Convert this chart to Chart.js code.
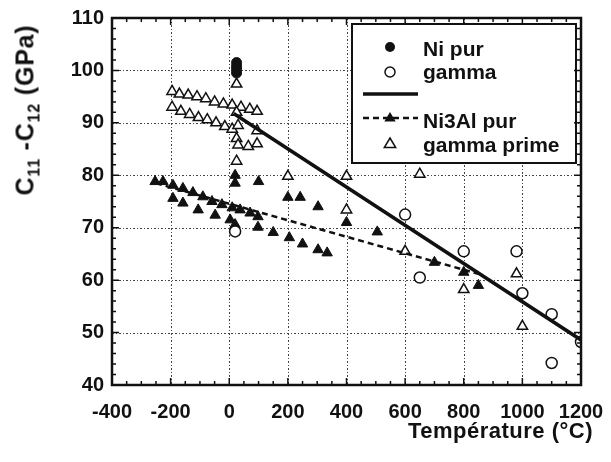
<!DOCTYPE html>
<html>
<head>
<meta charset="utf-8">
<script src="https://cdn.jsdelivr.net/npm/chart.js@4.4.0/dist/chart.umd.min.js"></script>
<style>
  html, body { margin: 0; padding: 0; background: #fff; }
  #wrap { position: relative; width: 611px; height: 462px; font-family: "Liberation Sans", Arial, sans-serif; font-weight: bold; color: #111; }
  #ytitle { position: absolute; left: 27px; top: 110px; transform: translate(-50%, -50%) rotate(-90deg); white-space: nowrap; font-size: 25px; letter-spacing: 0.8px; }
  #ytitle sub { font-size: 16px; vertical-align: -6px; }
  #xtitle { position: absolute; right: 18px; top: 420px; white-space: nowrap; font-size: 22px; line-height: 1; letter-spacing: 0.5px; }
</style>
</head>
<body>
<div id="wrap">
  <canvas id="chart" width="611" height="462"></canvas>
  <div id="ytitle">C<sub>11</sub> -C<sub>12</sub> (GPa)</div>
  <div id="xtitle">Température (°C)</div>
</div>
<script>
// C11-C12 vs temperature, Ni (gamma) and Ni3Al (gamma prime)

const xTickValues = [-400, -200, 0, 200, 400, 600, 800, 1000, 1200];
const yTickValues = [40, 50, 60, 70, 80, 90, 100, 110];

// Ni pur (filled circles)
const niPurX = [25, 25, 25, 25];
const niPurY = [99.5, 100.2, 100.8, 101.5];

// gamma (open circles)
const gammaX = [20, 600, 650, 800, 980, 1000, 1100, 1100, 1200];
const gammaY = [69.3, 72.5, 60.5, 65.5, 65.5, 57.5, 53.5, 44.2, 48.2];

// Ni3Al pur (filled triangles)
const ni3alX = [-253, -226, -192, -158, -124, -90, -59, -25, 10, 37, 71, 98,
                -192, -158, -106, -48, 3, 20, 98, 150, 205, 250, 303, 334,
                20, 20, 100, 200, 242, 303, 400, 505, 700, 800, 850];
const ni3alY = [78.8, 78.8, 78.1, 77.5, 76.7, 75.9, 75.0, 74.4, 73.8, 73.4, 72.8, 72.1,
                75.6, 74.7, 73.4, 72.4, 71.5, 70.6, 70.1, 69.1, 68.1, 66.9, 65.8, 65.2,
                80.0, 78.5, 78.8, 75.8, 75.8, 74.0, 71.0, 69.2, 63.4, 61.5, 59.0];

// gamma prime (open triangles)
const gPrimeX = [-195, -170, -140, -110, -80, -50, -20, 10, 40, 70, 95,
                 -195, -165, -135, -105, -75, -45, -15, 10,
                 25, 25, 30, 25, 30, 65, 95, 95, 25,
                 200, 400, 400, 650, 600, 800, 980, 1000];
const gPrimeY = [96.0, 95.5, 95.3, 95.0, 94.6, 94.0, 93.6, 93.4, 93.0, 92.6, 92.2,
                 93.0, 92.2, 91.6, 91.0, 90.6, 90.0, 89.3, 88.8,
                 97.4, 92.0, 89.5, 87.0, 85.8, 85.5, 86.0, 88.5, 82.7,
                 79.8, 79.8, 73.4, 80.2, 65.5, 58.2, 61.2, 51.2];

// trend lines
const gammaFitX = [15, 1200];
const gammaFitY = [91.8, 48.6];
const ni3alFitX = [-250, 850];
const ni3alFitY = [78.5, 61.2];

const pts = (xs, ys) => xs.map((v, i) => ({ x: v, y: ys[i] }));
const INK = '#111';
const FONT = '"Liberation Sans", Arial, sans-serif';

// dotted grid at the labelled ticks
const gridPlugin = {
    id: 'dottedGrid',
    beforeDatasetsDraw(chart) {
        const { ctx, chartArea: a, scales: { x, y } } = chart;
        ctx.save();
        ctx.strokeStyle = '#444';
        ctx.lineWidth = 1;
        ctx.setLineDash([2, 2, 1, 2]);
        ctx.beginPath();
        xTickValues.slice(1, -1).forEach(v => {
            const px = Math.round(x.getPixelForValue(v)) + 0.5;
            ctx.moveTo(px, a.top); ctx.lineTo(px, a.bottom);
        });
        yTickValues.slice(1, -1).forEach(v => {
            const py = Math.round(y.getPixelForValue(v)) + 0.5;
            ctx.moveTo(a.left, py); ctx.lineTo(a.right, py);
        });
        ctx.stroke();
        ctx.restore();
    }
};

const framePlugin = {
    id: 'frame',
    afterDatasetsDraw(chart) {
        const { ctx, chartArea: a, scales: { x, y } } = chart;
        ctx.save();

        // legend box (top right, inside the plot)
        const L = a.right - 229, T = a.top + 6, R = a.right - 5, B = a.top + 145;
        ctx.fillStyle = '#fff';
        ctx.fillRect(L, T, R - L, B - T);
        ctx.strokeStyle = INK;
        ctx.lineWidth = 2;
        ctx.strokeRect(L, T, R - L, B - T);

        const sx = L + 38, tx = L + 71;
        ctx.fillStyle = INK;
        ctx.beginPath(); ctx.arc(sx, a.top + 29, 5, 0, Math.PI * 2); ctx.fill();
        ctx.lineWidth = 1.5;
        ctx.beginPath(); ctx.arc(sx, a.top + 54, 5, 0, Math.PI * 2); ctx.stroke();
        ctx.lineWidth = 3.5;
        ctx.beginPath(); ctx.moveTo(L + 11, a.top + 76); ctx.lineTo(L + 66, a.top + 76); ctx.stroke();
        ctx.lineWidth = 2.5;
        ctx.setLineDash([6, 4]);
        ctx.beginPath(); ctx.moveTo(L + 11, a.top + 100); ctx.lineTo(L + 66, a.top + 100); ctx.stroke();
        ctx.setLineDash([]);
        const tri = (cx, cy, r, fill) => {
            ctx.beginPath();
            ctx.moveTo(cx, cy - r);
            ctx.lineTo(cx + r * 0.95, cy + r * 0.6);
            ctx.lineTo(cx - r * 0.95, cy + r * 0.6);
            ctx.closePath();
            if (fill) ctx.fill(); else { ctx.lineWidth = 1.5; ctx.stroke(); }
        };
        tri(sx, a.top + 100, 6, true);
        tri(sx, a.top + 126, 6, false);

        ctx.font = 'bold 21px ' + FONT;
        ctx.textAlign = 'left';
        ctx.textBaseline = 'alphabetic';
        ctx.fillText('Ni pur', tx, a.top + 38);
        ctx.fillText('gamma', tx, a.top + 61);
        ctx.fillText('Ni3Al pur', tx, a.top + 110);
        ctx.fillText('gamma prime', tx, a.top + 134);

        // inward tick marks on all four sides
        ctx.strokeStyle = INK;
        ctx.lineWidth = 1.5;
        ctx.beginPath();
        for (let v = -400; v <= 1200; v += 50) {
            const px = x.getPixelForValue(v);
            const len = v % 200 === 0 ? 7 : 4;
            ctx.moveTo(px, a.bottom); ctx.lineTo(px, a.bottom - len);
            ctx.moveTo(px, a.top); ctx.lineTo(px, a.top + len);
        }
        for (let v = 40; v <= 110; v += 2) {
            const py = y.getPixelForValue(v);
            const len = v % 10 === 0 ? 7 : 4;
            ctx.moveTo(a.left, py); ctx.lineTo(a.left + len, py);
            ctx.moveTo(a.right, py); ctx.lineTo(a.right - len, py);
        }
        ctx.stroke();

        // frame
        ctx.lineWidth = 2.5;
        ctx.strokeRect(a.left, a.top, a.right - a.left, a.bottom - a.top);
        ctx.restore();
    }
};

new Chart(document.getElementById('chart'), {
    type: 'scatter',
    data: {
        datasets: [
            {
                label: 'fit gamma',
                type: 'line',
                data: pts(gammaFitX, gammaFitY),
                borderColor: INK,
                borderWidth: 3.5,
                pointRadius: 0,
                showLine: true
            },
            {
                label: 'fit gamma prime',
                type: 'line',
                data: pts(ni3alFitX, ni3alFitY),
                borderColor: INK,
                borderWidth: 2.5,
                borderDash: [6, 4],
                pointRadius: 0,
                showLine: true
            },
            {
                label: 'Ni pur',
                data: pts(niPurX, niPurY),
                pointStyle: 'circle',
                pointRadius: 5,
                backgroundColor: INK,
                borderColor: INK
            },
            {
                label: 'gamma',
                data: pts(gammaX, gammaY),
                pointStyle: 'circle',
                pointRadius: 5.5,
                backgroundColor: '#fff',
                borderColor: INK,
                borderWidth: 1.5
            },
            {
                label: 'Ni3Al pur',
                data: pts(ni3alX, ni3alY),
                pointStyle: 'triangle',
                pointRadius: 6,
                backgroundColor: INK,
                borderColor: INK
            },
            {
                label: 'gamma prime',
                data: pts(gPrimeX, gPrimeY),
                pointStyle: 'triangle',
                pointRadius: 6,
                backgroundColor: '#fff',
                borderColor: INK,
                borderWidth: 1.5
            }
        ]
    },
    options: {
        responsive: false,
        animation: false,
        layout: { padding: { left: 0, top: 18, right: 30, bottom: 0 } },
        plugins: {
            legend: { display: false },
            tooltip: { enabled: false }
        },
        scales: {
            x: {
                type: 'linear',
                min: -400,
                max: 1200,
                afterBuildTicks: s => { s.ticks = xTickValues.map(v => ({ value: v })); },
                afterFit: s => { s.height = 77; s.paddingLeft = 0; s.paddingRight = 0; },
                ticks: {
                    color: INK,
                    padding: 15,
                    maxRotation: 0,
                    autoSkip: false,
                    font: { family: FONT, size: 20, weight: 'bold' },
                    callback: v => String(v)
                },
                grid: { display: false, drawTicks: false },
                border: { display: false }
            },
            y: {
                type: 'linear',
                min: 40,
                max: 110,
                afterBuildTicks: s => { s.ticks = yTickValues.map(v => ({ value: v })); },
                afterFit: s => { s.width = 112; s.paddingTop = 0; s.paddingBottom = 0; },
                ticks: {
                    color: INK,
                    padding: 8,
                    autoSkip: false,
                    font: { family: FONT, size: 20, weight: 'bold' },
                    callback: v => String(v)
                },
                grid: { display: false, drawTicks: false },
                border: { display: false }
            }
        }
    },
    plugins: [gridPlugin, framePlugin]
});
</script>
</body>
</html>
